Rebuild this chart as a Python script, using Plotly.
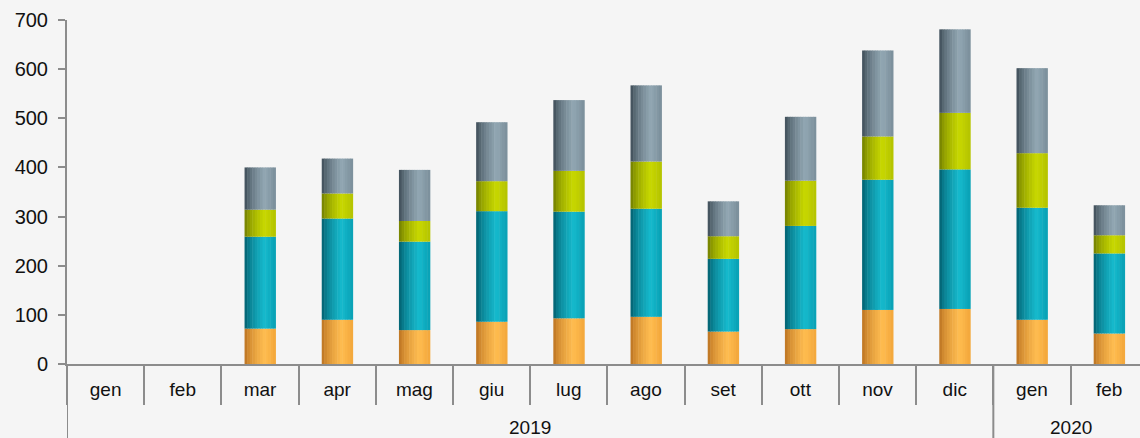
import plotly.graph_objects as go

months = ["gen", "feb", "mar", "apr", "mag", "giu", "lug", "ago", "set", "ott", "nov", "dic", "gen", "feb"]
years = ["2019"] * 12 + ["2020"] * 2

s_orange = [None, None, 72, 90, 69, 86, 93, 96, 66, 71, 110, 112, 90, 62]
s_teal = [None, None, 187, 206, 180, 225, 217, 220, 148, 210, 265, 284, 228, 163]
s_green = [None, None, 55, 51, 42, 61, 83, 96, 46, 92, 88, 115, 111, 37]
s_gray = [None, None, 86, 71, 104, 120, 144, 155, 71, 130, 175, 170, 173, 61]

cats = [m + " " + y for m, y in zip(months, years)]

series = [s_orange, s_teal, s_green, s_gray]
# (dark-left, light, right) colours for a cylinder-like shading
palettes = [
    ((180, 106, 28), (255, 189, 80), (242, 166, 58)),
    ((0, 84, 100), (22, 186, 205), (8, 160, 180)),
    ((104, 116, 0), (200, 216, 0), (180, 194, 0)),
    ((52, 66, 76), (146, 167, 179), (122, 142, 154)),
]


def mix(a, b, t):
    return tuple(int(round(a[i] + (b[i] - a[i]) * t)) for i in range(3))


def shade(pal, s):
    dark, light, right = pal
    if s < 0.65:
        t = (s / 0.65) ** 0.6
        c = mix(dark, light, t)
    else:
        t = (s - 0.65) / 0.35
        c = mix(light, right, t)
    return "rgb(%d,%d,%d)" % c


N = 12
bar_w = 0.4
strip = bar_w / N

fig = go.Figure()
base = [0 if v is not None else None for v in s_orange]
for vals, pal in zip(series, palettes):
    for j in range(N):
        s = (j + 0.5) / N
        fig.add_trace(go.Bar(
            x=cats,
            y=vals,
            base=base,
            width=strip * 1.2,
            offset=-bar_w / 2 + j * strip,
            marker=dict(color=shade(pal, s), line=dict(width=0)),
            showlegend=False,
            hoverinfo="skip",
        ))
    base = [(b + v) if (b is not None and v is not None) else None for b, v in zip(base, vals)]

AX = "#8c8c8c"
plot_h = 344.0
bottom_frac = -74 / plot_h

# year group labels and dividers
year_names = []
for y in years:
    if y not in year_names:
        year_names.append(y)
for yname in year_names:
    idx = [i for i, y in enumerate(years) if y == yname]
    fig.add_annotation(
        x=(idx[0] + idx[-1]) / 2.0, xref="x",
        y=-64 / plot_h, yref="paper", yanchor="middle",
        text=yname, showarrow=False,
        font=dict(size=19, color="#111111"),
    )
    fig.add_shape(
        type="line", xref="x", yref="paper",
        x0=idx[0] - 0.5, x1=idx[0] - 0.5, y0=0, y1=bottom_frac,
        line=dict(color=AX, width=2),
    )

fig.update_layout(
    width=1140,
    height=438,
    barmode="overlay",
    paper_bgcolor="#f5f5f5",
    plot_bgcolor="rgba(0,0,0,0)",
    margin=dict(l=67, r=0, t=20, b=74),
    font=dict(family="Liberation Sans, Arial, sans-serif", size=19, color="#111111"),
    showlegend=False,
)
fig.update_xaxes(
    type="category",
    range=[-0.5, 13.4],
    tickvals=cats,
    ticktext=months,
    showline=True,
    linecolor=AX,
    linewidth=2,
    ticks="outside",
    tickson="boundaries",
    ticklen=39,
    tickcolor=AX,
    tickwidth=2,
    ticklabelstandoff=7,
    showgrid=False,
    zeroline=False,
    tickfont=dict(size=19),
)
fig.update_yaxes(
    range=[0, 700],
    dtick=100,
    showline=True,
    linecolor=AX,
    linewidth=2,
    ticks="outside",
    ticklen=7,
    tickcolor=AX,
    tickwidth=2,
    ticklabelstandoff=6,
    showgrid=False,
    zeroline=False,
    tickfont=dict(size=20),
)

fig.write_html(
    "out.html",
    config={"displayModeBar": False},
    post_script="document.body.style.margin='0';document.body.style.overflow='hidden';",
)
